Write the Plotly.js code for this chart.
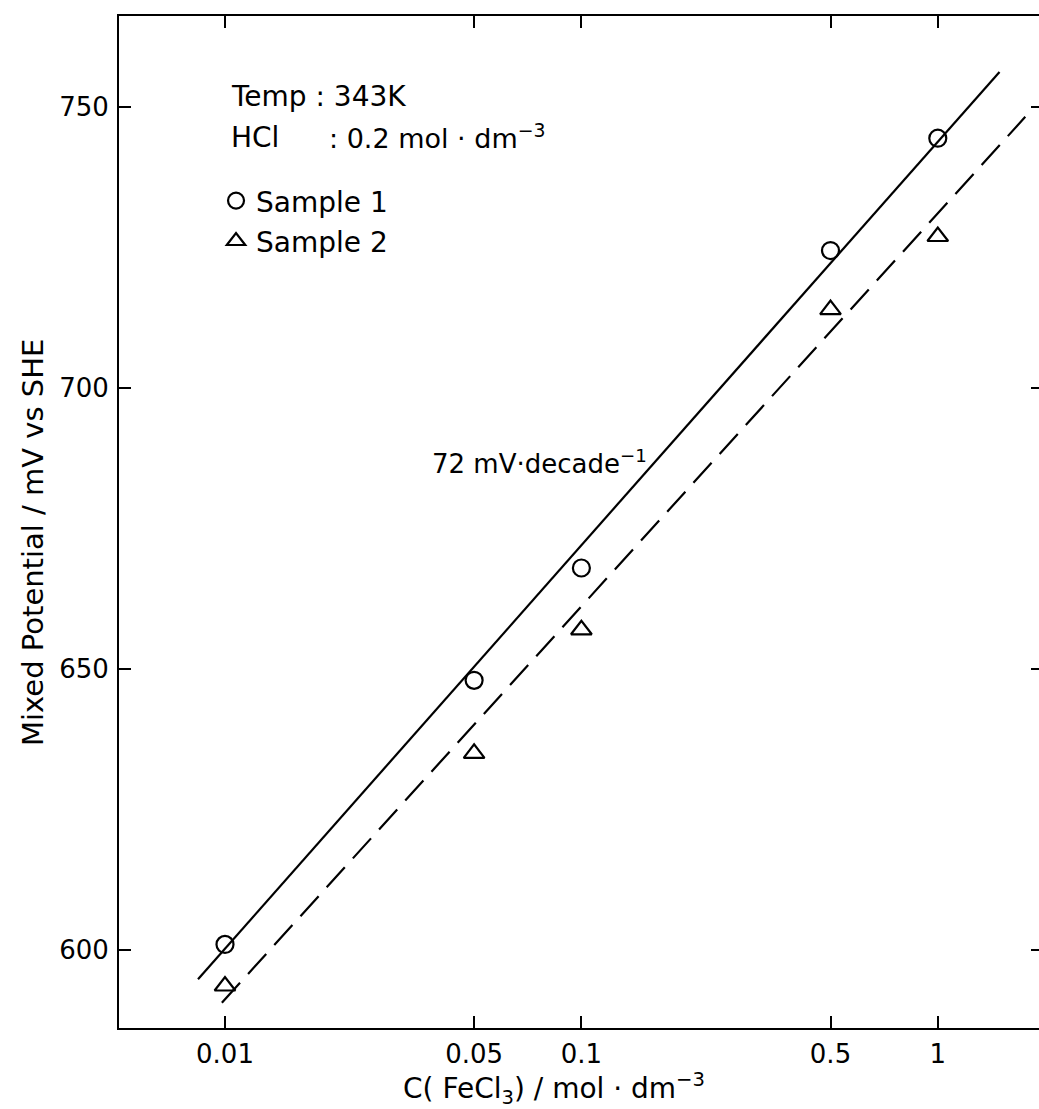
<!DOCTYPE html>
<html>
<head>
<meta charset="utf-8">
<script src="https://cdn.plot.ly/plotly-3.0.1.min.js"></script>
<style>
html, body { margin: 0; padding: 0; overflow: hidden; background: #fff; }
#chart { width: 1050px; height: 1109px; }
</style>
</head>
<body>
<div id="chart"></div>
<script>
// ---- data ----
const concentration = [0.01, 0.05, 0.1, 0.5, 1];          // C(FeCl3) / mol dm-3
const sample1 = [601, 648, 668, 724.5, 744.5];            // mV vs SHE
const sample2 = [593.6, 635, 657, 714, 727];              // mV vs SHE
const fit1X = [0.0084, 1.49];
const fit1Y = [594.8, 756.3];
const fit2X = [0.0098, 1.76];
const fit2Y = [590.6, 748.3];
const xTickVals = [0.01, 0.05, 0.1, 0.5, 1];
const xTickText = ["0.01", "0.05", "0.1", "0.5", "1"];
const yTickVals = [600, 650, 700, 750];
const xTitle = "C( FeCl<sub>3</sub>) / mol · dm<sup>−3</sup>";
const yTitle = "Mixed Potential / mV vs SHE";

const FONT = "DejaVu Sans, Liberation Sans, sans-serif";

// plot-area geometry in pixels (used only to place the text blocks)
const PL = 119, PW = 924, PB = 1028, PH = 1012;
const px = v => (v - PL) / PW;
const py = v => (PB - v) / PH;

const traces = [
  {
    x: fit1X, y: fit1Y, mode: "lines", showlegend: false, hoverinfo: "skip",
    line: { color: "#000", width: 2.2 }
  },
  {
    x: fit2X, y: fit2Y, mode: "lines", showlegend: false, hoverinfo: "skip",
    line: { color: "#000", width: 2.2, dash: "27px,12px" }
  },
  {
    x: concentration, y: sample1, mode: "markers", name: "Sample 1",
    legendgroup: "s1",
    marker: { symbol: "circle-open", size: 17, color: "#000", line: { width: 2.2, color: "#000" } },
    cliponaxis: false
  },
  {
    x: concentration, y: sample2, mode: "markers", name: "Sample 2",
    legendgroup: "s2",
    marker: { symbol: "triangle-up-open", size: 18, color: "#000", line: { width: 2.2, color: "#000" } },
    cliponaxis: false
  }
];

const axisCommon = {
  showgrid: false, zeroline: false, showline: true, linecolor: "#000", linewidth: 2,
  mirror: "ticks", ticks: "inside", ticklen: 12, tickwidth: 2, tickcolor: "#000",
  tickfont: { family: FONT, size: 26, color: "#000" }
};

const layout = {
  width: 1050, height: 1109,
  margin: { l: PL, r: 1050 - PL - PW, t: 16, b: 1109 - PB },
  paper_bgcolor: "#fff", plot_bgcolor: "#fff",
  font: { family: FONT, color: "#000" },
  xaxis: Object.assign({}, axisCommon, {
    type: "log", range: [-2.2974, 0.2952],
    tickmode: "array", tickvals: xTickVals, ticktext: xTickText,
    ticklabelstandoff: 2
  }),
  yaxis: Object.assign({}, axisCommon, {
    range: [586.12, 766.25],
    tickmode: "array", tickvals: yTickVals,
    ticklabelstandoff: 3
  }),
  showlegend: true,
  legend: {
    x: 0.105, y: 0.842, xanchor: "left", yanchor: "top",
    bgcolor: "rgba(0,0,0,0)", borderwidth: 0,
    font: { family: FONT, size: 28, color: "#000" },
    tracegroupgap: 1
  },
  annotations: [
    { xref: "paper", yref: "paper", x: px(554), y: py(1088),
      xanchor: "center", yanchor: "middle", showarrow: false,
      text: xTitle, font: { family: FONT, size: 28, color: "#000" } },
    { xref: "paper", yref: "paper", x: px(33), y: py(543), textangle: -90,
      xanchor: "center", yanchor: "middle", showarrow: false,
      text: yTitle, font: { family: FONT, size: 29, color: "#000" } },
    { xref: "paper", yref: "paper", x: px(229), y: py(97),
      xanchor: "left", yanchor: "middle", showarrow: false,
      text: "Temp : 343K", font: { family: FONT, size: 28, color: "#000" } },
    { xref: "paper", yref: "paper", x: px(229), y: py(138),
      xanchor: "left", yanchor: "middle", showarrow: false,
      text: "HCl", font: { family: FONT, size: 28, color: "#000" } },
    { xref: "paper", yref: "paper", x: px(327), y: py(136),
      xanchor: "left", yanchor: "middle", showarrow: false,
      text: ": 0.2 mol · dm<sup>−3</sup>", font: { family: FONT, size: 27, color: "#000" } },
    { xref: "paper", yref: "paper", x: px(430), y: py(462),
      xanchor: "left", yanchor: "middle", showarrow: false,
      text: "72 mV·decade<sup>−1</sup>", font: { family: FONT, size: 26, color: "#000" } }
  ]
};

Plotly.newPlot("chart", traces, layout, { staticPlot: true, displayModeBar: false });
</script>
</body>
</html>
